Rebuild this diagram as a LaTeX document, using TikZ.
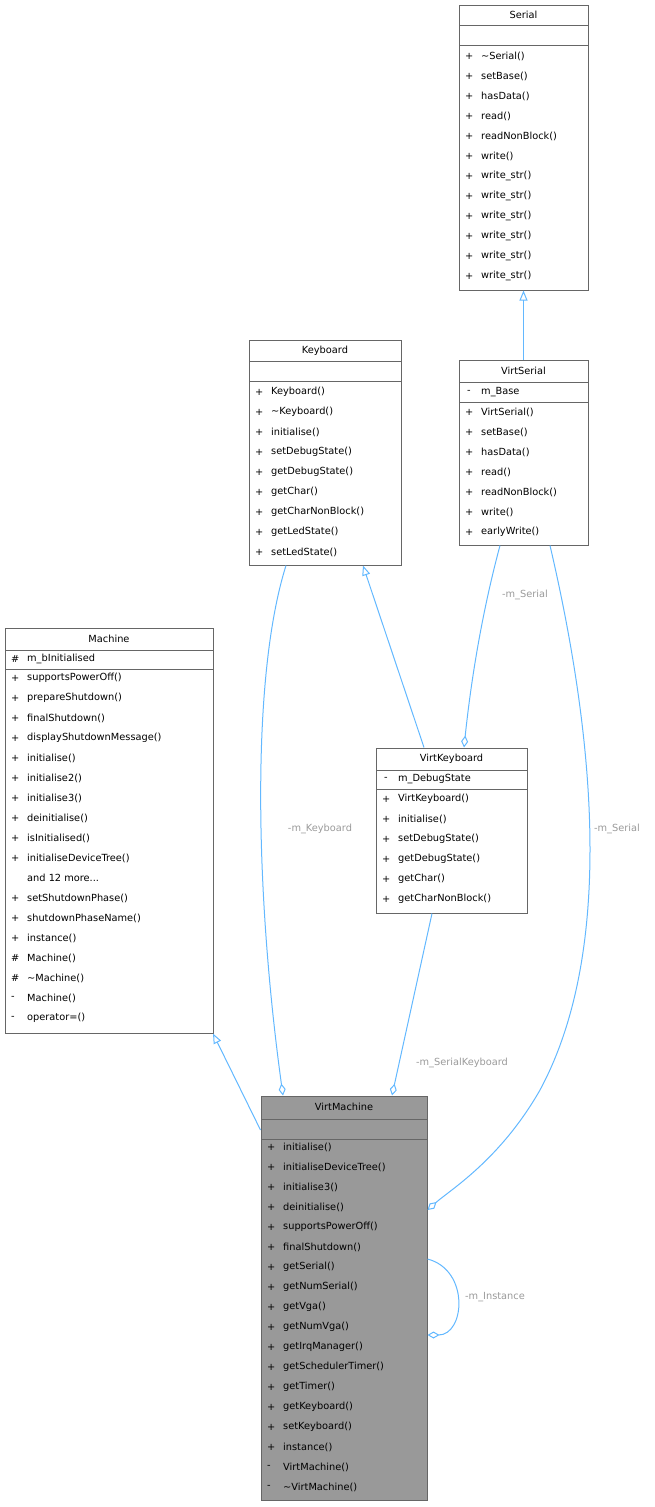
\documentclass[tikz,border=0pt]{standalone}
\usepackage{fontspec}
\setmainfont{DejaVu Sans}
\usetikzlibrary{arrows.meta}
\definecolor{edgeblue}{HTML}{63B8FF}
\definecolor{labelgray}{HTML}{9A9A9A}
\definecolor{boxgray}{HTML}{666666}
\definecolor{fillgray}{HTML}{999999}
\newcommand\andmore{and 12 more...}
\tikzset{
  box/.style={draw=boxgray, line width=1pt, inner sep=0pt},
  txt/.style={font=\fontsize{9.8}{11}\selectfont, inner sep=0pt, anchor=west},
  ttl/.style={font=\fontsize{9.8}{11}\selectfont, inner sep=0pt},
  inh/.style={draw=edgeblue, line width=1pt, -{Triangle[open, length=10pt, width=8pt]}},
  agg/.style={draw=edgeblue, line width=1pt, -{Diamond[open, length=12pt, width=7pt]}},
  lbl/.style={font=\fontsize{9.8}{11}\selectfont, text=labelgray, inner sep=1pt},
}
\begin{document}
\begin{tikzpicture}[x=1pt, y=-1pt]
  \useasboundingbox (0,0) rectangle (655,1507);

  % Serial
  \node[box, minimum width=129pt, minimum height=285pt] (serial) at (523.5,147.5) {};
  \node[ttl] (serialT) at (523.5,15) {Serial};
  \draw[boxgray, line width=1pt] (459,25) -- (588,25) (459,45) -- (588,45);
  \foreach \m [count=\i from 0] in {\textasciitilde Serial(), setBase(), hasData(), read(), readNonBlock(), write(), write\_str(), write\_str(), write\_str(), write\_str(), write\_str(), write\_str()} {
    \node[txt] at (465,56+20*\i) {+};
    \node[txt] at (481,56+20*\i) {\m};
  }

  % Keyboard
  \node[box, minimum width=152pt, minimum height=225pt] (keyboard) at (325,452.5) {};
  \node[ttl] at (325,351) {Keyboard};
  \draw[boxgray, line width=1pt] (249,361) -- (401,361) (249,381) -- (401,381);
  \foreach \m [count=\i from 0] in {Keyboard(), \textasciitilde Keyboard(), initialise(), setDebugState(), getDebugState(), getChar(), getCharNonBlock(), getLedState(), setLedState()} {
    \node[txt] at (255,392+20*\i) {+};
    \node[txt] at (271,392+20*\i) {\m};
  }

  % VirtSerial
  \node[box, minimum width=129pt, minimum height=185pt] (virtserial) at (523.5,452.5) {};
  \node[ttl] at (523.5,371) {VirtSerial};
  \draw[boxgray, line width=1pt] (459,382) -- (588,382) (459,402) -- (588,402);
  \node[txt] at (467,392) {-};
  \node[txt] at (481,392) {m\_Base};
  \foreach \m [count=\i from 0] in {VirtSerial(), setBase(), hasData(), read(), readNonBlock(), write(), earlyWrite()} {
    \node[txt] at (465,412+20*\i) {+};
    \node[txt] at (481,412+20*\i) {\m};
  }

  % Machine
  \node[box, minimum width=208pt, minimum height=405pt] (machine) at (109,830.5) {};
  \node[ttl] at (109,639) {Machine};
  \draw[boxgray, line width=1pt] (5,650) -- (213,650) (5,669) -- (213,669);
  \node[txt] at (11,659) {\#};
  \node[txt] at (27,659) {m\_bInitialised};
  \foreach \s/\m [count=\i from 0] in {+/supportsPowerOff(), +/prepareShutdown(), +/finalShutdown(), +/displayShutdownMessage(), +/initialise(), +/initialise2(), +/initialise3(), +/deinitialise(), +/isInitialised(), +/initialiseDeviceTree(), {}/{\andmore}, +/setShutdownPhase(), +/shutdownPhaseName(), +/instance(), \#/Machine(), \#/\textasciitilde Machine(), -/Machine(), -/operator=()} {
    \node[txt] at (11,678+20*\i) {\s};
    \node[txt] at (27,678+20*\i) {\m};
  }

  % VirtKeyboard
  \node[box, minimum width=151pt, minimum height=165pt] (virtkeyboard) at (451.5,830.5) {};
  \node[ttl] at (451.5,759) {VirtKeyboard};
  \draw[boxgray, line width=1pt] (376,770) -- (527,770) (376,789) -- (527,789);
  \node[txt] at (384,779) {-};
  \node[txt] at (398,779) {m\_DebugState};
  \foreach \m [count=\i from 0] in {VirtKeyboard(), initialise(), setDebugState(), getDebugState(), getChar(), getCharNonBlock()} {
    \node[txt] at (382,799+20*\i) {+};
    \node[txt] at (398,799+20*\i) {\m};
  }

  % VirtMachine
  \node[box, fill=fillgray, minimum width=166pt, minimum height=404pt] (virtmachine) at (344,1298) {};
  \node[ttl] at (344,1107) {VirtMachine};
  \draw[boxgray, line width=1pt] (261,1119) -- (427,1119) (261,1139) -- (427,1139);
  \foreach \s/\m [count=\i from 0] in {+/initialise(), +/initialiseDeviceTree(), +/initialise3(), +/deinitialise(), +/supportsPowerOff(), +/finalShutdown(), +/getSerial(), +/getNumSerial(), +/getVga(), +/getNumVga(), +/getIrqManager(), +/getSchedulerTimer(), +/getTimer(), +/getKeyboard(), +/setKeyboard(), +/instance(), -/VirtMachine(), -/\textasciitilde VirtMachine()} {
    \node[txt] at (267,1147+20*\i) {\s};
    \node[txt] at (283,1147+20*\i) {\m};
  }

  % inheritance
  \draw[inh] (virtserial.north) -- (serial.south);
  \draw[inh] (virtkeyboard.north -| 424,0) -- (keyboard.south -| 363,0);
  \draw[inh] (virtmachine.west |- 0,1130) -- (machine.south -| 213,0);

  % aggregation
  \draw[agg] (keyboard.south -| 286,0) .. controls (250,680) and (256,900) .. (virtmachine.north -| 283,0);
  \node[lbl] at (320,829) {-m\_Keyboard};
  \draw[agg] (virtserial.south -| 500,0) .. controls (480,620) and (470,690) .. (virtkeyboard.north -| 464,0);
  \node[lbl] at (525,595) {-m\_Serial};
  \draw[agg] (virtkeyboard.south -| 432,0) -- (virtmachine.north -| 392,0);
  \node[lbl] at (462,1063) {-m\_SerialKeyboard};
  \draw[agg] (virtserial.south -| 550,0) .. controls (600,760) and (610,960) .. (540,1090) .. controls (500,1160) and (450,1190) .. (virtmachine.east |- 0,1210);
  \node[lbl] at (617,829) {-m\_Serial};
  \draw[agg] (virtmachine.east |- 0,1259) .. controls (470,1270) and (465,1335) .. (virtmachine.east |- 0,1335);
  \node[lbl] at (495,1297) {-m\_Instance};
\end{tikzpicture}
\end{document}
